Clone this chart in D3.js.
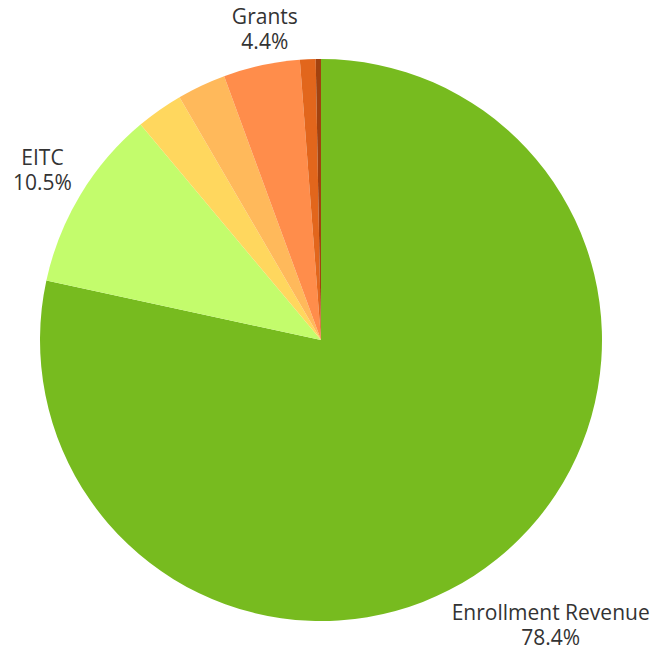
<!DOCTYPE html>
<html><head><meta charset="utf-8">
<script src="https://cdn.jsdelivr.net/npm/d3@7"></script>
<style>body{margin:0;background:#fff}svg{display:block}</style>
</head><body>
<svg id="c" width="654" height="650"></svg>
<script>
const categories = ["Enrollment Revenue","EITC","Other 1","Other 2","Grants","Other 3","Other 4"];
const values = [78.4, 10.5, 2.7, 2.8, 4.4, 0.9, 0.3];
const colors = ["#77bb1f","#c3fc6c","#ffd75e","#ffb95b","#ff8d4b","#e2661c","#a3420f"];
const labelled = ["Enrollment Revenue","EITC","Grants"];
const labelText = ["78.4%","10.5%","4.4%"];

const svg = d3.select("#c");
const cx = 321, cy = 340, r = 281;
const g = svg.append("g").attr("transform", `translate(${cx},${cy})`);
const pie = d3.pie().sort(null).value(d => d.v);
const data = categories.map((c,i)=>({c, v: values[i], col: colors[i]}));
const arcs = pie(data);
const arc = d3.arc().innerRadius(0).outerRadius(r);
g.selectAll("path").data(arcs).join("path").attr("d", arc).attr("fill", d => d.data.col);

// label placement: polar position outside the pie plus nudge
const nudge = {"Enrollment Revenue":[10,12],"EITC":[21,11],"Grants":[18,31]};
labelled.forEach((name,i)=>{
  const a = arcs.find(d=>d.data.c===name);
  const mid = (a.startAngle + a.endAngle)/2;
  const R = r + 69;
  const x = R*Math.sin(mid) + nudge[name][0];
  const y = -R*Math.cos(mid) + nudge[name][1];
  const t = g.append("text").attr("x", x).attr("y", y).attr("text-anchor","middle")
    .attr("font-family","'Open Sans', sans-serif").attr("font-size", 21).attr("fill","#333");
  t.append("tspan").attr("x", x).attr("dy", "-0.22em").text(name);
  t.append("tspan").attr("x", x).attr("dy", "1.18em").text(labelText[i]);
});
</script>
</body></html>
